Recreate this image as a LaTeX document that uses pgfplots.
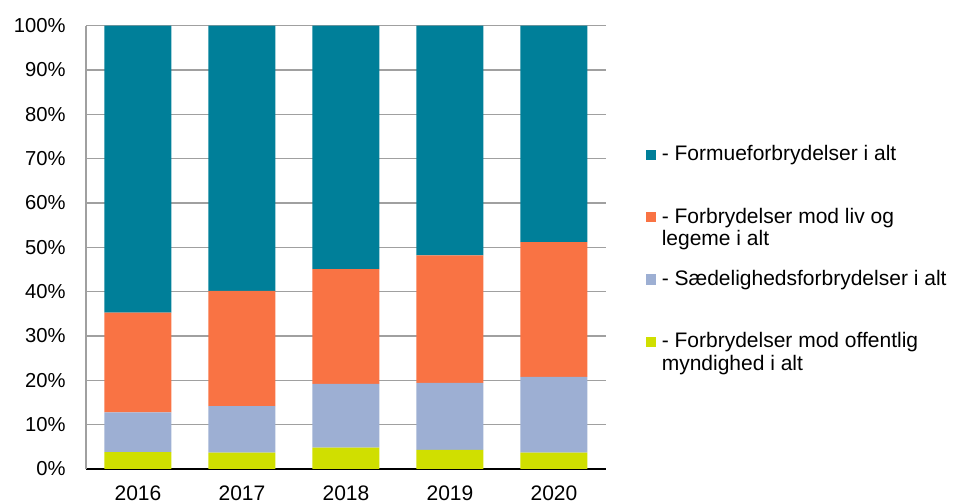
\documentclass[border=0pt]{standalone}
\usepackage{pgfplots}
\pgfplotsset{compat=1.18}
\usepackage{fontspec}
\setmainfont{Liberation Sans}

\definecolor{formue}{RGB}{0,127,153}
\definecolor{livlegeme}{RGB}{249,115,68}
\definecolor{saedelig}{RGB}{157,175,211}
\definecolor{myndighed}{RGB}{208,223,0}
\definecolor{gridgrey}{RGB}{160,160,160}

\pgfplotsset{
  sq/.style={legend image code/.code={\fill[##1] (0pt,0.35pt) rectangle (5.1pt,5.5pt);}},
}

\begin{document}
\begin{tikzpicture}[font=\fontsize{10.1}{11.3}\selectfont]
\begin{axis}[
    scale only axis,
    width=260pt, height=221.65pt,
    ybar stacked, bar width=33.5pt,
    xmin=-0.5, xmax=4.5, ymin=0, ymax=100,
    xtick={0,1,2,3,4},
    xticklabels={2016,2017,2018,2019,2020},
    ytick={0,10,...,100},
    yticklabel={\pgfmathprintnumber{\tick}\%},
    /pgf/number format/assume math mode=true,
    major tick length=0pt,
    axis x line*=bottom, axis y line*=left,
    x axis line style={black, line width=1.15pt, -},
    y axis line style={gridgrey, line width=0.75pt, -},
    ymajorgrids, grid style={gridgrey, line width=0.75pt},
    yticklabel style={anchor=east, inner sep=0pt, xshift=-10pt},
    xticklabel style={anchor=north, inner sep=0pt, yshift=-8.25pt,
        font=\fontsize{10.5}{11.3}\selectfont},
    reverse legend,
    legend style={
        at={(1.0769,0.730)}, anchor=north west,
        draw=none, fill=none, inner sep=0pt, outer sep=0pt,
        row sep=9.4pt, column sep=2.8pt,
        cells={anchor=base west},
        font=\fontsize{10.5}{11.3}\selectfont,
        nodes={inner sep=0pt, outer sep=0pt, text height=7.63pt, text depth=14.17pt},
    },
]
\addplot[fill=myndighed, draw=none, sq] coordinates {(0,3.8) (1,3.7) (2,4.8) (3,4.3) (4,3.7)};
\addplot[fill=saedelig, draw=none, sq] coordinates {(0,9.0) (1,10.5) (2,14.4) (3,15.1) (4,17.1)};
\addplot[fill=livlegeme, draw=none, sq] coordinates {(0,22.5) (1,26.0) (2,25.9) (3,28.8) (4,30.4)};
\addplot[fill=formue, draw=none, sq] coordinates {(0,64.7) (1,59.8) (2,54.9) (3,51.8) (4,48.8)};
\addlegendentry{\parbox[t]{160pt}{- Forbrydelser mod offentlig\\myndighed i alt}}
\addlegendentry{- Sædelighedsforbrydelser i alt}
\addlegendentry{\parbox[t]{160pt}{- Forbrydelser mod liv og\\legeme i alt}}
\addlegendentry{- Formueforbrydelser i alt}
\end{axis}
\pgfresetboundingbox
\path[use as bounding box] (-43pt,-17pt) rectangle (434.5pt,234.5pt);
\end{tikzpicture}
\end{document}
